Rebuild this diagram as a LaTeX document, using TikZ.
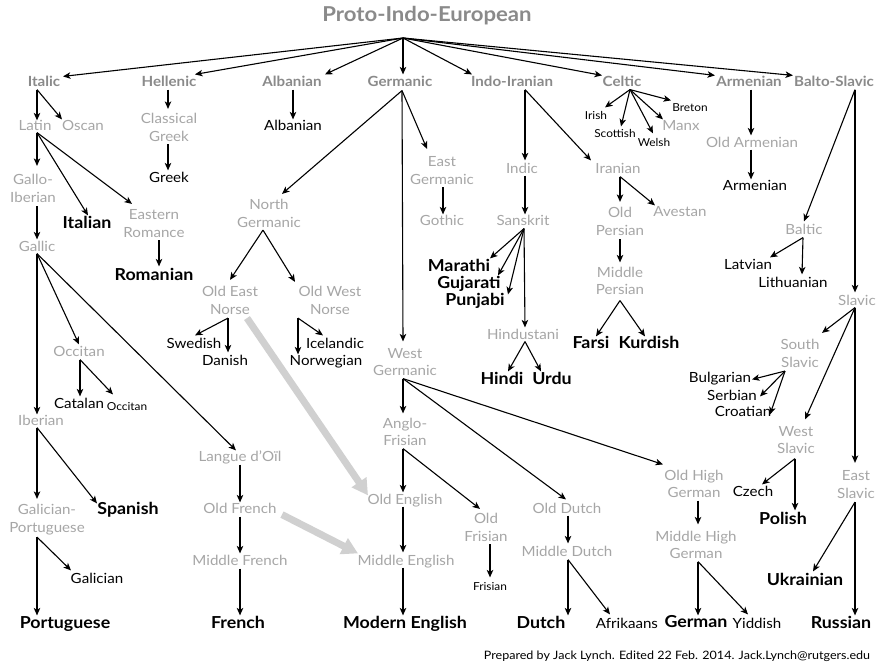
\documentclass[tikz,border=0pt]{standalone}
\usepackage{fontspec}
\setmainfont{Lato}[FakeStretch=1.08]
\usetikzlibrary{arrows.meta,calc}
\definecolor{brgray}{HTML}{8A8A8A}
\definecolor{midgray}{HTML}{A6A6A6}
\definecolor{bandgray}{HTML}{D0D0D0}
\newcommand{\ml}[2]{\rule{0pt}{.92em}#1\\#2\rule[-.2em]{0pt}{.2em}}
\begin{document}
\begin{tikzpicture}[x=1pt,y=-1pt,
  base/.style={inner sep=0pt, outer sep=0pt, text height=.92em, text depth=.2em, anchor=center},
  base2/.style={inner sep=0pt, outer sep=0pt, align=center, anchor=center},
  ttl/.style={base, font=\fontsize{20.5}{24}\selectfont\bfseries, text=brgray},
  brn/.style={base, font=\fontsize{14}{17.5}\selectfont\bfseries, text=brgray},
  mid/.style={base, font=\fontsize{14}{17.5}\selectfont, text=midgray},
  mid2/.style={base2, font=\fontsize{14}{17.5}\selectfont, text=midgray},
  lang/.style={base, font=\fontsize{14}{17.5}\selectfont, text=black},
  maj/.style={base, font=\fontsize{16.5}{20}\selectfont\bfseries, text=black},
  sml/.style={base, font=\fontsize{11}{13}\selectfont, text=black},
  foot/.style={base, font=\fontsize{11.6}{13}\selectfont, text=black},
  arr/.style={-{Stealth[length=7.5pt,width=6.5pt,inset=2pt]}, line width=1.1pt, black},
  band/.style={bandgray, line width=7pt, -{Triangle[length=16pt,width=17pt]}}
]
\useasboundingbox (0,0) rectangle (883,664);
\fill[white] (0,0) rectangle (883,664);

% ---------- nodes ----------
\node[ttl] (pie) at (427,17.5) {Proto-Indo-European};
\coordinate (hub) at (403,38);

\node[brn] (italic) at (44,83) {Italic};
\node[brn] (hellenic) at (169,83) {Hellenic};
\node[brn] (albanianb) at (292,83) {Albanian};
\node[brn] (germanic) at (400,83) {Germanic};
\node[brn] (indoiranian) at (512,83) {Indo-Iranian};
\node[brn] (celtic) at (622,83) {Celtic};
\node[brn] (armenianb) at (749,83) {Armenian};
\node[brn] (baltoslavic) at (834,83) {Balto-Slavic};

% Italic
\node[mid] (latin) at (35,127) {Latin};
\node[mid] (oscan) at (83,127) {Oscan};
\node[mid2] (galloib) at (33,188.5) {\ml{Gallo-}{Iberian}};
\node[maj] (italian) at (87,225) {Italian};
\node[mid2] (eastrom) at (154,223.5) {\ml{Eastern}{Romance}};
\node[maj] (romanian) at (154,277) {Romanian};
\node[mid] (gallic) at (37,248) {Gallic};
\node[mid] (occitanb) at (79,353) {Occitan};
\node[lang] (catalan) at (79,405) {Catalan};
\node[sml] (occitan) at (127,407) {Occitan};
\node[mid] (iberian) at (41,422) {Iberian};
\node[mid2] (galport) at (47,518.5) {\ml{Galician-}{Portuguese}};
\node[maj] (spanish) at (128,511) {Spanish};
\node[lang] (galician) at (97,580) {Galician};
\node[maj] (portuguese) at (65,625) {Portuguese};
\node[mid] (langue) at (240,458) {Langue d’Oïl};
\node[mid] (oldfrench) at (240,510) {Old French};
\node[mid] (midfrench) at (240,562) {Middle French};
\node[maj] (french) at (238,625) {French};

% Hellenic, Albanian
\node[mid2] (classgreek) at (169,127.5) {\ml{Classical}{Greek}};
\node[lang] (greek) at (169,179) {Greek};
\node[lang] (albanian) at (293,127) {Albanian};

% Germanic
\node[mid2] (eastgerm) at (442,170.5) {\ml{East}{Germanic}};
\node[mid] (gothic) at (442,222) {Gothic};
\node[mid2] (northgerm) at (269,213.5) {\ml{North}{Germanic}};
\node[mid2] (oen) at (230,300.5) {\ml{Old East}{Norse}};
\node[mid2] (own) at (330,300.5) {\ml{Old West}{Norse}};
\node[lang] (swedish) at (194,345) {Swedish};
\node[lang] (danish) at (225,362) {Danish};
\node[lang] (icelandic) at (335,345) {Icelandic};
\node[lang] (norwegian) at (326,362) {Norwegian};
\node[mid2] (westgerm) at (405,362) {\ml{West}{Germanic}};
\node[mid2] (anglofris) at (405,432) {\ml{Anglo-}{Frisian}};
\node[mid] (oldenglish) at (405,501) {Old English};
\node[mid] (midenglish) at (406,562) {Middle English};
\node[maj] (modenglish) at (405,625) {Modern English};
\node[mid2] (oldfrisian) at (486,527.5) {\ml{Old}{Frisian}};
\node[sml] (frisian) at (490,587) {Frisian};
\node[mid] (olddutch) at (567,510) {Old Dutch};
\node[mid] (middutch) at (567,553) {Middle Dutch};
\node[maj] (dutch) at (541,625) {Dutch};
\node[lang] (afrikaans) at (627,625) {Afrikaans};
\node[mid2] (ohg) at (694,484) {\ml{Old High}{German}};
\node[mid2] (mhg) at (696,545) {\ml{Middle High}{German}};
\node[maj] (german) at (696,624) {German};
\node[lang] (yiddish) at (757,625) {Yiddish};

% Indo-Iranian
\node[mid] (indic) at (522,170) {Indic};
\node[mid] (sanskrit) at (523,222) {Sanskrit};
\node[maj] (marathi) at (459,268) {Marathi};
\node[maj] (gujarati) at (469,285) {Gujarati};
\node[maj] (punjabi) at (475,302) {Punjabi};
\node[mid] (hindustani) at (523,336) {Hindustani};
\node[maj] (hindi) at (502,381) {Hindi};
\node[maj] (urdu) at (552,381) {Urdu};
\node[mid] (iranian) at (618,170) {Iranian};
\node[mid2] (oldpersian) at (620,221.5) {\ml{Old}{Persian}};
\node[mid] (avestan) at (680,213) {Avestan};
\node[mid2] (midpersian) at (620,281) {\ml{Middle}{Persian}};
\node[maj] (farsi) at (591,345) {Farsi};
\node[maj] (kurdish) at (649,345) {Kurdish};

% Celtic
\node[sml] (irish) at (596,116) {Irish};
\node[sml] (scottish) at (615,134) {Scottish};
\node[sml] (welsh) at (654,143) {Welsh};
\node[mid] (manx) at (681,127) {Manx};
\node[sml] (breton) at (690,108) {Breton};

% Armenian
\node[mid] (oldarmenian) at (752,144) {Old Armenian};
\node[lang] (armenian) at (755,187) {Armenian};

% Balto-Slavic
\node[mid] (baltic) at (804,231) {Baltic};
\node[lang] (latvian) at (748,266) {Latvian};
\node[lang] (lithuanian) at (793,284) {Lithuanian};
\node[mid] (slavic) at (857,302) {Slavic};
\node[mid2] (southslavic) at (800,353.5) {\ml{South}{Slavic}};
\node[lang] (bulgarian) at (720,379) {Bulgarian};
\node[lang] (serbian) at (732,397) {Serbian};
\node[lang] (croatian) at (743,413) {Croatian};
\node[mid2] (westslavic) at (796,440) {\ml{West}{Slavic}};
\node[lang] (czech) at (753,493) {Czech};
\node[maj] (polish) at (783,521) {Polish};
\node[mid2] (eastslavic) at (856,484.5) {\ml{East}{Slavic}};
\node[maj] (ukrainian) at (805,582) {Ukrainian};
\node[maj] (russian) at (841,625) {Russian};

\node[foot, anchor=east] (credit) at (870,656) {Prepared by Jack Lynch. Edited 22 Feb. 2014. Jack.Lynch@rutgers.edu};

% ---------- borrowing bands ----------
\draw[band] ($(oen.south)+(17,1)$) -- ($(oldenglish.north)+(-37,0)$);
\draw[band] ($(oldfrench.south)+(42,-1)$) -- ($(midenglish.north)+(-48,-3)$);

% ---------- connectors ----------
\draw[arr] (hub) -- ($(italic.north)+(19,-1)$);
\draw[arr] (hub) -- ($(hellenic.north)+(26,-3)$);
\draw[arr] (hub) -- ($(albanianb.north)+(33,-3)$);
\draw[arr] (hub) -- ($(germanic.north)+(3,-3)$);
\draw[arr] (hub) -- ($(indoiranian.north)+(-40,-3)$);
\draw[arr] (hub) -- ($(celtic.north)+(-20,-2)$);
\draw[arr] (hub) -- ($(armenianb.north)+(-34,-2)$);
\draw[arr] (hub) -- ($(baltoslavic.north)+(-41,-2)$);

% Italic
\coordinate (f-italic) at ($(italic.south)+(-7,1)$);
\draw[arr] (f-italic) -- ($(latin.north)+(2,-1)$);
\draw[arr] (f-italic) -- ($(oscan.north)+(-21,-2)$);
\coordinate (f-latin) at ($(latin.south)+(2,0)$);
\draw[arr] (f-latin) -- ($(galloib.north)+(4,-6)$);
\draw[arr] (f-latin) -- ($(italian.north)+(1,-4)$);
\draw[arr] (f-latin) -- ($(eastrom.north)+(-22,-3)$);
\coordinate (f-galloib) at ($(galloib.south)+(4,1)$);
\draw[arr] (f-galloib) -- ($(gallic.north)+(0,-3)$);
\coordinate (f-eastrom) at ($(eastrom.south)+(5,0)$);
\draw[arr] (f-eastrom) -- ($(romanian.north)+(5,-5)$);
\coordinate (f-gallic) at (gallic.south);
\draw[arr] (f-gallic) -- ($(occitanb.north)+(0,-3)$);
\draw[arr] (f-gallic) -- ($(iberian.north)+(-4,-2)$);
\draw[arr] (f-gallic) -- ($(langue.north)+(-4,-2)$);
\coordinate (f-occitanb) at ($(occitanb.south)+(1,1)$);
\draw[arr] (f-occitanb) -- ($(catalan.north)+(1,-3)$);
\draw[arr] (f-occitanb) -- ($(occitan.north)+(-14,-7)$);
\coordinate (f-iberian) at ($(iberian.south)+(-4,0)$);
\draw[arr] (f-iberian) -- ($(galport.north)+(-10,-3)$);
\draw[arr] (f-iberian) -- ($(spanish.north)+(-31,-2)$);
\coordinate (f-galport) at ($(galport.south)+(-10,2)$);
\draw[arr] (f-galport) -- ($(portuguese.north)+(-28,-4)$);
\draw[arr] (f-galport) -- ($(galician.north)+(-26,-4)$);
\coordinate (f-langue) at ($(langue.south)+(0,1)$);
\draw[arr] (f-langue) -- ($(oldfrench.north)+(0,-2)$);
\coordinate (f-oldfrench) at ($(oldfrench.south)+(0,1)$);
\draw[arr] (f-oldfrench) -- ($(midfrench.north)+(0,-3)$);
\coordinate (f-midfrench) at ($(midfrench.south)+(0,1)$);
\draw[arr] (f-midfrench) -- ($(french.north)+(2,-4)$);

% Hellenic, Albanian
\coordinate (f-hellenic) at ($(hellenic.south)+(-1,1)$);
\draw[arr] (f-hellenic) -- ($(classgreek.north)+(-1,-2)$);
\coordinate (f-classgreek) at ($(classgreek.south)+(-1,0)$);
\draw[arr] (f-classgreek) -- ($(greek.north)+(-1,-3)$);
\coordinate (f-albanianb) at ($(albanianb.south)+(1,1)$);
\draw[arr] (f-albanianb) -- ($(albanian.north)+(0,-2)$);

% Germanic
\coordinate (f-germanic) at ($(germanic.south)+(2,2)$);
\draw[arr] (f-germanic) -- ($(northgerm.north)+(13,-3)$);
\draw[arr] (f-germanic) -- ($(eastgerm.north)+(-15,-5)$);
\draw[arr] (f-germanic) -- ($(westgerm.north)+(-2,-4)$);
\coordinate (f-eastgerm) at ($(eastgerm.south)+(1,0)$);
\draw[arr] (f-eastgerm) -- ($(gothic.north)+(1,-2)$);
\coordinate (f-northgerm) at ($(northgerm.south)+(-6,0)$);
\draw[arr] (f-northgerm) -- ($(oen.north)+(0,-4)$);
\draw[arr] (f-northgerm) -- ($(own.north)+(-35,-2)$);
\coordinate (f-oen) at ($(oen.south)+(-2,1)$);
\draw[arr] (f-oen) -- ($(swedish.north)+(1,-4)$);
\draw[arr] (f-oen) -- ($(danish.north)+(3,-4)$);
\coordinate (f-own) at ($(own.south)+(-32,1)$);
\draw[arr] (f-own) -- ($(icelandic.north)+(-12,-4)$);
\draw[arr] (f-own) -- ($(norwegian.north)+(-28,-2)$);
\coordinate (f-westgerm) at ($(westgerm.south)+(-2,0)$);
\draw[arr] (f-westgerm) -- ($(anglofris.north)+(-2,-2)$);
\draw[arr] (f-westgerm) -- ($(olddutch.north)+(-1,-5)$);
\draw[arr] (f-westgerm) -- ($(ohg.north)+(-31,-3)$);
\coordinate (f-anglofris) at ($(anglofris.south)+(-2,0)$);
\draw[arr] (f-anglofris) -- ($(oldenglish.north)+(-2,-3)$);
\draw[arr] (f-anglofris) -- ($(oldfrisian.north)+(-6,-2)$);
\coordinate (f-oldenglish) at ($(oldenglish.south)+(-2,0)$);
\draw[arr] (f-oldenglish) -- ($(midenglish.north)+(-3,-4)$);
\coordinate (f-midenglish) at ($(midenglish.south)+(-3,0)$);
\draw[arr] (f-midenglish) -- ($(modenglish.north)+(-2,-4)$);
\coordinate (f-oldfrisian) at ($(oldfrisian.south)+(4,0)$);
\draw[arr] (f-oldfrisian) -- ($(frisian.north)+(0,-4)$);
\coordinate (f-olddutch) at ($(olddutch.south)+(1,0)$);
\draw[arr] (f-olddutch) -- ($(middutch.north)+(1,-4)$);
\coordinate (f-middutch) at ($(middutch.south)+(1,1)$);
\draw[arr] (f-middutch) -- ($(dutch.north)+(27,-4)$);
\draw[arr] (f-middutch) -- ($(afrikaans.north)+(-17,-5)$);
\coordinate (f-ohg) at ($(ohg.south)+(4,0)$);
\draw[arr] (f-ohg) -- ($(mhg.north)+(2,-4)$);
\coordinate (f-mhg) at ($(mhg.south)+(2,0)$);
\draw[arr] (f-mhg) -- ($(german.north)+(2,-3)$);
\draw[arr] (f-mhg) -- ($(yiddish.north)+(-9,-5)$);

% Indo-Iranian
\coordinate (f-indoiranian) at ($(indoiranian.south)+(13,1)$);
\draw[arr] (f-indoiranian) -- ($(indic.north)+(3,-4)$);
\draw[arr] (f-indoiranian) -- ($(iranian.north)+(-27,-4)$);
\coordinate (f-indic) at ($(indic.south)+(3,0)$);
\draw[arr] (f-indic) -- ($(sanskrit.north)+(2,-2)$);
\coordinate (f-sanskrit) at ($(sanskrit.south)+(1,1)$);
\draw[arr] (f-sanskrit) -- ($(marathi.north)+(31,-4)$);
\draw[arr] (f-sanskrit) -- ($(gujarati.north)+(29,-4)$);
\draw[arr] (f-sanskrit) -- ($(punjabi.north)+(33,-2)$);
\draw[arr] (f-sanskrit) -- ($(hindustani.north)+(2,-3)$);
\coordinate (f-hindustani) at ($(hindustani.south)+(2,0)$);
\draw[arr] (f-hindustani) -- ($(hindi.north)+(6,-4)$);
\draw[arr] (f-hindustani) -- ($(urdu.north)+(-11,-4)$);
\coordinate (f-iranian) at ($(iranian.south)+(2,1)$);
\draw[arr] (f-iranian) -- ($(oldpersian.north)+(0,-3)$);
\draw[arr] (f-iranian) -- ($(avestan.north)+(-25,-2)$);
\coordinate (f-oldpersian) at ($(oldpersian.south)+(0,1)$);
\draw[arr] (f-oldpersian) -- ($(midpersian.north)+(0,-2)$);
\coordinate (f-midpersian) at ($(midpersian.south)+(0,3)$);
\draw[arr] (f-midpersian) -- ($(farsi.north)+(5,-3)$);
\draw[arr] (f-midpersian) -- ($(kurdish.north)+(-4,-3)$);

% Celtic
\coordinate (f-celtic) at ($(celtic.south)+(8,1)$);
\draw[arr] (f-celtic) -- ($(irish.north)+(9,-3)$);
\draw[arr] (f-celtic) -- ($(scottish.north)+(6,-2)$);
\draw[arr] (f-celtic) -- ($(welsh.north)+(-1,-4)$);
\draw[arr] (f-celtic) -- ($(manx.north)+(-18,-2)$);
\draw[arr] (f-celtic) -- ($(breton.north)+(-19,-2)$);

% Armenian
\coordinate (f-armenianb) at ($(armenianb.south)+(2,1)$);
\draw[arr] (f-armenianb) -- ($(oldarmenian.north)+(-1,-3)$);
\coordinate (f-oldarmenian) at ($(oldarmenian.south)+(-1,0)$);
\draw[arr] (f-oldarmenian) -- ($(armenian.north)+(-4,-2)$);

% Balto-Slavic
\coordinate (f-baltoslavic) at ($(baltoslavic.south)+(21,1)$);
\draw[arr] (f-baltoslavic) -- ($(baltic.north)+(0,-4)$);
\draw[arr] (f-baltoslavic) -- ($(slavic.north)+(-2,-4)$);
\coordinate (f-baltic) at ($(baltic.south)+(-1,1)$);
\draw[arr] (f-baltic) -- ($(latvian.north)+(22,-3)$);
\draw[arr] (f-baltic) -- ($(lithuanian.north)+(9,-4)$);
\coordinate (f-slavic) at ($(slavic.south)+(-2,0)$);
\draw[arr] (f-slavic) -- ($(southslavic.north)+(22,-4)$);
\draw[arr] (f-slavic) -- ($(westslavic.north)+(9,-4)$);
\draw[arr] (f-slavic) -- ($(eastslavic.north)+(-1,-5)$);
\coordinate (f-southslavic) at ($(southslavic.south)+(-15,1)$);
\draw[arr] (f-southslavic) -- ($(bulgarian.north)+(32,6)$);
\draw[arr] (f-southslavic) -- ($(serbian.north)+(28,5)$);
\draw[arr] (f-southslavic) -- ($(croatian.north)+(27,7)$);
\coordinate (f-westslavic) at ($(westslavic.south)+(-1,2)$);
\draw[arr] (f-westslavic) -- ($(czech.north)+(9,-3)$);
\draw[arr] (f-westslavic) -- ($(polish.north)+(12,-5)$);
\coordinate (f-eastslavic) at ($(eastslavic.south)+(-1,1)$);
\draw[arr] (f-eastslavic) -- ($(ukrainian.north)+(8,-5)$);
\draw[arr] (f-eastslavic) -- ($(russian.north)+(14,-4)$);
\end{tikzpicture}
\end{document}
